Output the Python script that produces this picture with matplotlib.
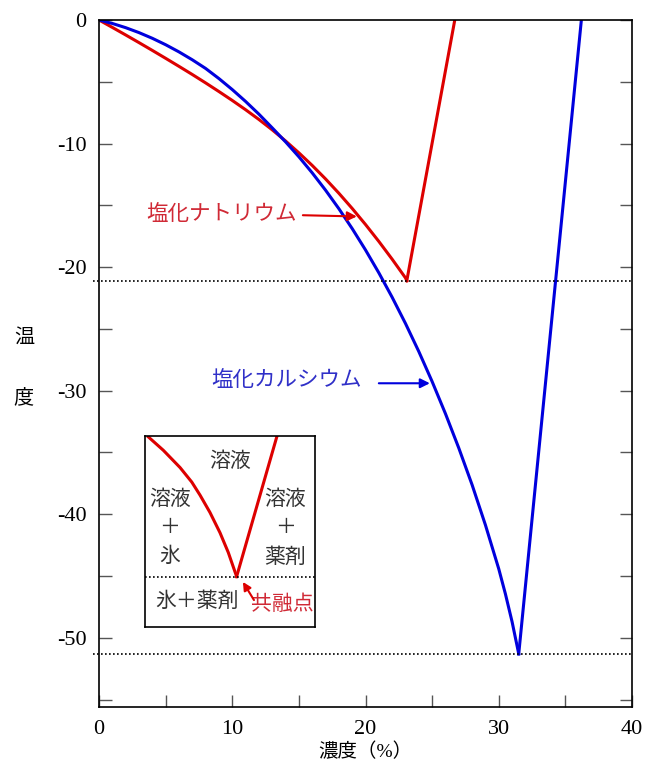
import numpy as np
import matplotlib
matplotlib.use('Agg')
import matplotlib.pyplot as plt

plt.rcParams['font.family'] = ['Liberation Serif', 'Noto Sans CJK JP', 'DejaVu Sans']
plt.rcParams['axes.unicode_minus'] = False

# NaCl liquidus (concentration %, temperature C)
nacl_x = [0, 1, 2, 3, 4, 5, 6, 7, 8, 9, 10, 11, 12, 13, 14, 15, 16, 17, 18,
          19, 20, 21, 22, 23, 23.1]
nacl_t = [0, -0.60, -1.21, -1.83, -2.46, -3.10, -3.75, -4.41, -5.09, -5.79,
          -6.51, -7.26, -8.05, -8.89, -9.79, -10.75, -11.77, -12.86, -14.02,
          -15.25, -16.55, -17.92, -19.36, -20.87, -21.1]
nacl_salt_x = [23.1, 26.7]
nacl_salt_t = [-21.1, 0]

# CaCl2 liquidus
cacl_x = [0, 1, 2, 3, 4, 5, 6, 7, 8, 9, 10, 11, 12, 13, 14, 15, 16, 17, 18,
          19, 20, 21, 22, 23, 24, 25, 26, 27, 28, 29, 30, 30.5, 31, 31.5]
cacl_t = [0, -0.28, -0.62, -1.02, -1.48, -2.00, -2.58, -3.22, -3.92, -4.74,
          -5.63, -6.59, -7.62, -8.73, -9.86, -11.07, -12.37, -13.77, -15.27,
          -16.88, -18.61, -20.46, -22.44, -24.56, -26.83, -29.26, -31.86,
          -34.64, -37.62, -40.87, -44.42, -46.45, -48.7, -51.3]
cacl_salt_x = [31.5, 36.2]
cacl_salt_t = [-51.3, 0]

eutectic_t = [-21.1, -51.3]

# schematic inset (normalised units)
inset_lx = [0.02, 0.108, 0.206, 0.275, 0.324, 0.382, 0.441, 0.490, 0.539]
inset_ly = [0.995, 0.925, 0.835, 0.759, 0.690, 0.600, 0.494, 0.390, 0.264]
inset_rx = [0.539, 0.775]
inset_ry = [0.264, 0.995]

red = '#dd0000'
blue = '#0000dd'

fig = plt.figure(figsize=(6.47, 7.64), dpi=100)
ax = fig.add_axes([99 / 647, 1 - 707 / 764, 533 / 647, 687 / 764])

ax.plot(nacl_x, nacl_t, color=red, lw=2.2)
ax.plot(nacl_salt_x, nacl_salt_t, color=red, lw=2.2)
ax.plot(cacl_x, cacl_t, color=blue, lw=2.2)
ax.plot(cacl_salt_x, cacl_salt_t, color=blue, lw=2.2)

for t in eutectic_t:
    ax.plot([-0.45, 40], [t, t], color='black', lw=1.2,
            linestyle=(0, (1, 1.4)), clip_on=False)

ax.set_xlim(0, 40)
ax.set_ylim(-55.6, 0)
ax.set_xticks(np.arange(0, 41, 10))
ax.set_xticks(np.arange(5, 40, 5), minor=True)
ax.set_yticks(np.arange(0, -51, -10))
ax.set_yticks(np.arange(-5, -56, -5), minor=True)
ax.tick_params(which='both', direction='in', length=9, width=1, color='#555555',
               labelsize=16, right=True, top=False)
ax.tick_params(axis='x', pad=9)
ax.tick_params(axis='y', pad=9)
for s in ax.spines.values():
    s.set_linewidth(1.2)

ax.set_xlabel('濃度（%）', fontsize=14, labelpad=3)
ax.set_ylabel('温\n度', rotation=0, fontsize=14.5, linespacing=4.0,
              va='center', ha='center')
ax.yaxis.set_label_coords(-0.141, 0.493)

# labels with arrows
ax.text(9.19, -15.8, '塩化ナトリウム', color='#d02a36', fontsize=15.5,
        ha='center', va='center')
ax.annotate('', xy=(19.35, -15.9), xytext=(15.3, -15.8),
            arrowprops=dict(arrowstyle='-|>', color=red, lw=1.5,
                            mutation_scale=14, shrinkA=0, shrinkB=0))
ax.text(14.07, -29.2, '塩化カルシウム', color='#3030c8', fontsize=15.5,
        ha='center', va='center')
ax.annotate('', xy=(24.83, -29.4), xytext=(21.0, -29.4),
            arrowprops=dict(arrowstyle='-|>', color=blue, lw=1.5,
                            mutation_scale=14, shrinkA=0, shrinkB=0))

# inset diagram
ins = fig.add_axes([145 / 647, 1 - 627 / 764, 170 / 647, 191 / 764])
ins.plot(inset_lx, inset_ly, color=red, lw=2.2)
ins.plot(inset_rx, inset_ry, color=red, lw=2.2)
ins.plot([0, 1], [0.264, 0.264], color='black', lw=1.2, linestyle=(0, (1, 1.4)))
ins.set_xlim(0, 1)
ins.set_ylim(0, 1)
ins.set_xticks([])
ins.set_yticks([])
for s in ins.spines.values():
    s.set_linewidth(1.2)

txt = dict(fontsize=15, color='#333333', ha='center', va='center')
ins.text(0.5, 0.864, '溶液', **txt)
ins.text(0.147, 0.665, '溶液', **txt)
ins.text(0.147, 0.518, '＋', **txt)
ins.text(0.147, 0.366, '氷', **txt)
ins.text(0.824, 0.665, '溶液', **txt)
ins.text(0.824, 0.518, '＋', **txt)
ins.text(0.824, 0.36, '薬剤', **txt)
ins.text(0.306, 0.131, '氷＋薬剤', **txt)
ins.text(0.806, 0.115, '共融点', fontsize=15, color='#d02a36', ha='center',
         va='center', clip_on=False)
ins.annotate('', xy=(0.576, 0.236), xytext=(0.641, 0.141),
             arrowprops=dict(arrowstyle='-|>', color=red, lw=1.5,
                             mutation_scale=12, shrinkA=0, shrinkB=0))

fig.savefig('out.png', dpi=100)
